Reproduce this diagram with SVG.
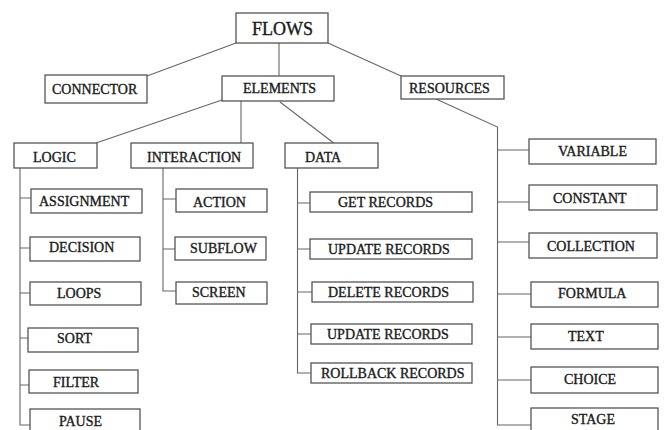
<svg xmlns="http://www.w3.org/2000/svg" width="665" height="430" viewBox="0 0 665 430">
<style>
.b{fill:#fff;stroke:#555;stroke-width:1.3}
.t{font-family:"Liberation Serif","Times New Roman",serif;font-size:14px;fill:#1a1a1a;stroke:#1a1a1a;stroke-width:0.35}
.c{fill:none;stroke:#666;stroke-width:1.1}
</style>
<rect width="665" height="430" fill="#fff"/>
<g id="connectors" class="c">
<path d="M236,43 L147,76"/>
<path d="M279,43 V76"/>
<path d="M328,43 L401,76"/>
<path d="M222,100 L96,143"/>
<path d="M241,101 V143"/>
<path d="M280,102 L335,144"/>
<path d="M436,99 L497.5,127 V425 H531"/>
<path d="M497.5,150 H529 M497.5,202 H529 M497.5,242 H529 M497.5,294 H531 M497.5,337 H531 M497.5,380 H531"/>
<path d="M20,168 V425 H30"/>
<path d="M20,198 H31 M20,248 H30 M20,293 H30 M20,338 H28 M20,385 H29"/>
<path d="M163,168 V291 H176"/>
<path d="M163,199 H176 M163,249 H175"/>
<path d="M297.5,168 V373 H311"/>
<path d="M297.5,203 H310 M297.5,249 H310 M297.5,292 H312 M297.5,334 H311"/>
</g>
<g id="flows"><rect class="b" x="236" y="13" width="92" height="30"/><text class="t" x="252" y="35" style="font-size:18px">FLOWS</text></g>
<g id="connector"><rect class="b" x="45" y="75" width="102" height="28"/><text class="t" x="52" y="94">CONNECTOR</text></g>
<g id="elements"><rect class="b" x="222" y="76" width="112" height="25"/><text class="t" x="243" y="93">ELEMENTS</text></g>
<g id="resources"><rect class="b" x="401" y="76" width="103" height="23"/><text class="t" x="409" y="93">RESOURCES</text></g>
<g id="logic"><rect class="b" x="14" y="143" width="83" height="25"/><text class="t" x="33" y="161.5">LOGIC</text></g>
<g id="interaction"><rect class="b" x="131" y="143" width="122" height="25"/><text class="t" x="147" y="161.5">INTERACTION</text></g>
<g id="data"><rect class="b" x="285" y="143" width="93" height="25"/><text class="t" x="305" y="161.5">DATA</text></g>
<g id="assignment"><rect class="b" x="31" y="189" width="111" height="24"/><text class="t" x="39" y="206">ASSIGNMENT</text></g>
<g id="decision"><rect class="b" x="30" y="237" width="110" height="24"/><text class="t" x="49" y="251.5">DECISION</text></g>
<g id="loops"><rect class="b" x="30" y="282" width="111" height="23"/><text class="t" x="57" y="297.5">LOOPS</text></g>
<g id="sort"><rect class="b" x="28" y="328" width="110" height="24"/><text class="t" x="57" y="343">SORT</text></g>
<g id="filter"><rect class="b" x="29" y="370" width="109" height="23"/><text class="t" x="53" y="386.5">FILTER</text></g>
<g id="pause"><rect class="b" x="30" y="409" width="110" height="30"/><text class="t" x="59" y="426">PAUSE</text></g>
<g id="action"><rect class="b" x="176" y="189" width="91" height="23"/><text class="t" x="193" y="206.5">ACTION</text></g>
<g id="subflow"><rect class="b" x="175" y="237" width="91" height="23"/><text class="t" x="190" y="253">SUBFLOW</text></g>
<g id="screen"><rect class="b" x="176" y="282" width="91" height="22"/><text class="t" x="192" y="297">SCREEN</text></g>
<g id="get-records"><rect class="b" x="310" y="192" width="162" height="20"/><text class="t" x="338" y="206.5">GET RECORDS</text></g>
<g id="update-records-1"><rect class="b" x="310" y="239" width="162" height="20"/><text class="t" x="328" y="254">UPDATE RECORDS</text></g>
<g id="delete-records"><rect class="b" x="312" y="282" width="161" height="20"/><text class="t" x="328" y="296.5">DELETE RECORDS</text></g>
<g id="update-records-2"><rect class="b" x="311" y="324" width="161" height="20"/><text class="t" x="327" y="339">UPDATE RECORDS</text></g>
<g id="rollback-records"><rect class="b" x="311" y="363" width="161" height="20"/><text class="t" x="321" y="377.5">ROLLBACK RECORDS</text></g>
<g id="variable"><rect class="b" x="529" y="139" width="127" height="25"/><text class="t" x="558" y="156">VARIABLE</text></g>
<g id="constant"><rect class="b" x="529" y="185" width="128" height="25"/><text class="t" x="553" y="203">CONSTANT</text></g>
<g id="collection"><rect class="b" x="529" y="233" width="128" height="25"/><text class="t" x="547" y="251">COLLECTION</text></g>
<g id="formula"><rect class="b" x="531" y="282" width="127" height="25"/><text class="t" x="558" y="298">FORMULA</text></g>
<g id="text"><rect class="b" x="531" y="324" width="127" height="25"/><text class="t" x="568" y="341">TEXT</text></g>
<g id="choice"><rect class="b" x="531" y="367" width="127" height="26"/><text class="t" x="564" y="384">CHOICE</text></g>
<g id="stage"><rect class="b" x="531" y="408" width="127" height="30"/><text class="t" x="571" y="424">STAGE</text></g>
</svg>
